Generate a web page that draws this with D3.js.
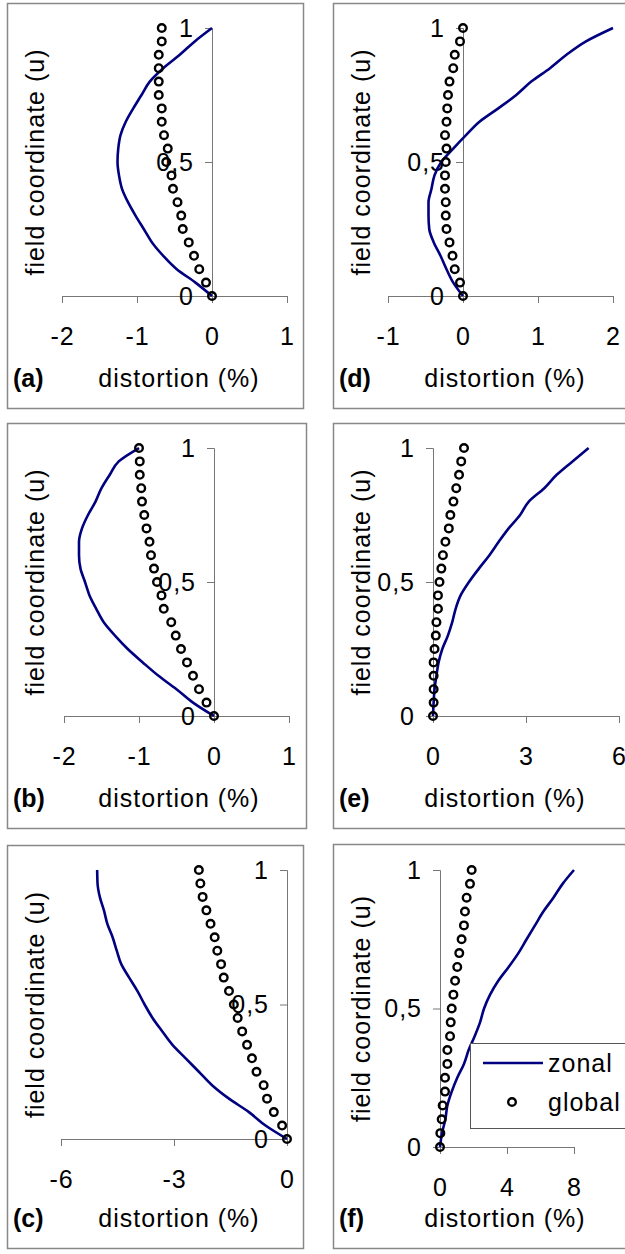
<!DOCTYPE html>
<html>
<head>
<meta charset="utf-8">
<script src="https://cdn.jsdelivr.net/npm/d3@7"></script>
<style>
  html, body { margin: 0; padding: 0; background: #fff; }
  svg { display: block; }
  text { font-family: Arial, "Liberation Sans", sans-serif; fill: #000; letter-spacing: 1px; }
</style>
</head>
<body>
<div id="viz-container"></div>
<script>
// ── Data (field coordinate u, bottom to top) ─────────────────
const U = [0, 0.05, 0.1, 0.15, 0.2, 0.25, 0.3, 0.35, 0.4, 0.45, 0.5,
           0.55, 0.6, 0.65, 0.7, 0.75, 0.8, 0.85, 0.9, 0.95, 1];

const zonalA  = [0, -0.22, -0.47, -0.65, -0.80, -0.91, -1.02, -1.12, -1.20, -1.24, -1.26,
                 -1.25, -1.22, -1.15, -1.05, -0.94, -0.83, -0.65, -0.43, -0.23, 0];
const globalA = [0, -0.08, -0.17, -0.24, -0.31, -0.39, -0.41, -0.46, -0.52, -0.54, -0.61,
                 -0.59, -0.64, -0.67, -0.67, -0.71, -0.71, -0.71, -0.71, -0.67, -0.67];

const zonalB  = [0, -0.28, -0.50, -0.74, -0.95, -1.15, -1.32, -1.47, -1.57, -1.66, -1.72,
                 -1.78, -1.80, -1.80, -1.76, -1.68, -1.58, -1.50, -1.39, -1.27, -1.0];
const globalB = [0, -0.10, -0.20, -0.28, -0.36, -0.44, -0.51, -0.57, -0.67, -0.70, -0.76,
                 -0.80, -0.84, -0.86, -0.90, -0.93, -0.96, -0.97, -0.99, -0.99, -1.0];

const zonalC  = [0, -0.57, -1.01, -1.54, -1.99, -2.34, -2.69, -3.04, -3.31, -3.57, -3.78,
                 -3.97, -4.19, -4.40, -4.52, -4.63, -4.77, -4.86, -4.97, -5.03, -5.04];
const globalC = [0, -0.13, -0.35, -0.53, -0.62, -0.81, -0.93, -1.06, -1.19, -1.31, -1.41,
                 -1.54, -1.68, -1.75, -1.85, -1.92, -2.03, -2.14, -2.24, -2.30, -2.34];

const zonalD  = [0, -0.13, -0.22, -0.30, -0.39, -0.45, -0.46, -0.46, -0.42, -0.38, -0.29,
                 -0.13, 0.04, 0.22, 0.47, 0.71, 0.91, 1.16, 1.38, 1.64, 2.0];
const globalD = [0, -0.04, -0.11, -0.14, -0.18, -0.22, -0.23, -0.23, -0.24, -0.24, -0.23,
                 -0.22, -0.24, -0.22, -0.21, -0.20, -0.18, -0.13, -0.11, -0.04, 0];

const zonalE  = [0, 0.02, 0.05, 0.11, 0.18, 0.30, 0.48, 0.62, 0.73, 0.89, 1.16,
                 1.48, 1.82, 2.12, 2.44, 2.81, 3.09, 3.59, 3.99, 4.50, 5.02];
const globalE = [0, 0.02, 0.02, 0.02, 0.02, 0.05, 0.09, 0.11, 0.16, 0.16, 0.21,
                 0.27, 0.32, 0.40, 0.51, 0.56, 0.66, 0.75, 0.84, 0.91, 1.0];

const zonalF  = [0, 0.12, 0.32, 0.44, 0.70, 1.03, 1.43, 1.71, 2.07, 2.39, 2.63,
                 2.99, 3.48, 4.10, 4.68, 5.17, 5.67, 6.17, 6.77, 7.32, 8.0];
const globalF = [0, 0.02, 0.10, 0.16, 0.30, 0.30, 0.44, 0.44, 0.60, 0.64, 0.70,
                 0.80, 0.90, 1.03, 1.15, 1.29, 1.43, 1.49, 1.59, 1.79, 1.89];

// tick values per panel
const yTicks  = [0, 0.5, 1];
const xTicksA = [-2, -1, 0, 1];
const xTicksB = [-2, -1, 0, 1];
const xTicksC = [-6, -3, 0];
const xTicksD = [-1, 0, 1, 2];
const xTicksE = [0, 3, 6];
const xTicksF = [0, 4, 8];

const panelLabels  = ['(a)', '(b)', '(c)', '(d)', '(e)', '(f)'];
const legendLabels = ['zonal', 'global'];

// ── Layout ───────────────────────────────────────────────────
const W = 625, H = 1254;
const LINE_COLOR = '#000080';
const AXIS_COLOR = '#777';
const FONT = 25;

const panels = [
  { label: panelLabels[0], zonal: zonalA, glob: globalA, ticks: xTicksA,
    frame: [7, 3, 296, 405],     xr: [62, 287],  yr: [296, 28] },
  { label: panelLabels[1], zonal: zonalB, glob: globalB, ticks: xTicksB,
    frame: [7, 423, 299, 405],   xr: [64, 289],  yr: [716, 448] },
  { label: panelLabels[2], zonal: zonalC, glob: globalC, ticks: xTicksC,
    frame: [7, 845, 296, 403],   xr: [61, 287],  yr: [1139, 870] },
  { label: panelLabels[3], zonal: zonalD, glob: globalD, ticks: xTicksD,
    frame: [333, 3, 300, 405],   xr: [388, 613], yr: [296, 28] },
  { label: panelLabels[4], zonal: zonalE, glob: globalE, ticks: xTicksE,
    frame: [333, 423, 300, 405], xr: [433, 619], yr: [716, 448] },
  { label: panelLabels[5], zonal: zonalF, glob: globalF, ticks: xTicksF,
    frame: [333, 844, 300, 404], xr: [440, 574], yr: [1147, 870], legend: true },
];

const svg = d3.select('#viz-container')
  .append('svg')
  .attr('width', W)
  .attr('height', H);

svg.append('rect').attr('width', W).attr('height', H).attr('fill', '#fff');

panels.forEach(drawPanel);

function styleAxis(ax) {
  ax.select('.domain').attr('stroke', AXIS_COLOR);
  ax.selectAll('.tick line').attr('stroke', AXIS_COLOR);
  ax.selectAll('.tick text')
    .attr('font-size', FONT)
    .attr('font-family', 'Arial, "Liberation Sans", sans-serif')
    .attr('fill', '#000');
}

function drawPanel(p) {
  const [fx, fy, fw, fh] = p.frame;
  const g = svg.append('g');

  // frame
  g.append('rect')
    .attr('x', fx + 0.5).attr('y', fy + 0.5)
    .attr('width', fw).attr('height', fh)
    .attr('fill', '#fff')
    .attr('stroke', '#888')
    .attr('stroke-width', 1.5);

  const x = d3.scaleLinear().domain(d3.extent(p.ticks)).range(p.xr);
  const y = d3.scaleLinear().domain([0, 1]).range(p.yr);

  // ── Axes ──────────────────────────────────────────────────
  g.append('g')
    .attr('transform', `translate(0,${y(0)})`)
    .call(d3.axisBottom(x).tickValues(p.ticks).tickSize(7).tickPadding(24).tickFormat(d => String(d)))
    .call(styleAxis);

  g.append('g')
    .attr('transform', `translate(${x(0)},0)`)
    .call(d3.axisLeft(y).tickValues(yTicks).tickSize(7).tickPadding(11)
      .tickFormat(d => String(d).replace('.', ',')))
    .call(styleAxis);

  // axis titles
  g.append('text')
    .attr('x', fx + 172)
    .attr('y', fy + fh - 21)
    .attr('text-anchor', 'middle')
    .attr('font-size', FONT)
    .text('distortion (%)');

  g.append('text')
    .attr('x', fx + 6)
    .attr('y', fy + fh - 21)
    .attr('font-size', FONT)
    .attr('font-weight', 'bold')
    .style('letter-spacing', '0px')
    .text(p.label);

  const midY = (p.yr[0] + p.yr[1]) / 2;
  g.append('text')
    .attr('transform', `translate(${fx + 37},${midY}) rotate(-90)`)
    .attr('text-anchor', 'middle')
    .attr('font-size', FONT)
    .text('field coordinate (u)');

  // ── Series ────────────────────────────────────────────────
  const line = d3.line()
    .x(d => x(d))
    .y((d, i) => y(U[i]))
    .curve(d3.curveMonotoneY);

  g.append('path')
    .datum(p.zonal)
    .attr('fill', 'none')
    .attr('stroke', LINE_COLOR)
    .attr('stroke-width', 2.6)
    .attr('stroke-linejoin', 'round')
    .attr('d', line);

  g.selectAll('circle.glob')
    .data(p.glob)
    .join('circle')
    .attr('class', 'glob')
    .attr('cx', d => x(d))
    .attr('cy', (d, i) => y(U[i]))
    .attr('r', 3.8)
    .attr('fill', 'none')
    .attr('stroke', '#000')
    .attr('stroke-width', 2.4);

  if (p.legend) drawLegend(g);
}

// ── Legend (panel f) ─────────────────────────────────────────
function drawLegend(g) {
  const lg = g.append('g').attr('transform', 'translate(470,1043)');
  lg.append('rect')
    .attr('x', 0.5).attr('y', 0.5)
    .attr('width', 200).attr('height', 85)
    .attr('fill', '#fff')
    .attr('stroke', '#555')
    .attr('stroke-width', 1);
  lg.append('line')
    .attr('x1', 13).attr('x2', 73)
    .attr('y1', 20).attr('y2', 20)
    .attr('stroke', LINE_COLOR)
    .attr('stroke-width', 2.6);
  lg.append('circle')
    .attr('cx', 42).attr('cy', 59).attr('r', 3.8)
    .attr('fill', 'none').attr('stroke', '#000').attr('stroke-width', 2.4);
  lg.append('text').attr('x', 78).attr('y', 29).attr('font-size', FONT).text(legendLabels[0]);
  lg.append('text').attr('x', 78).attr('y', 68).attr('font-size', FONT).text(legendLabels[1]);
}
</script>
</body>
</html>
